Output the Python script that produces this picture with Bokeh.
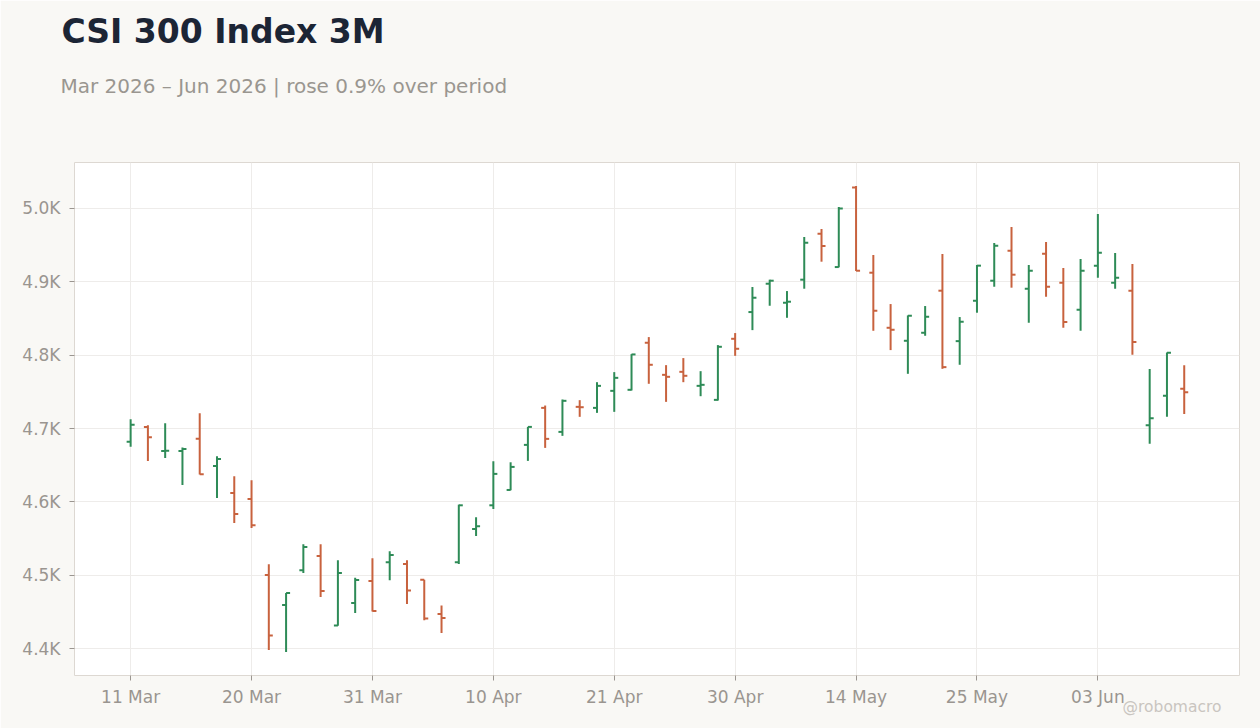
from math import pi
from datetime import datetime
from bokeh.plotting import figure
from bokeh.models import (ColumnDataSource, Range1d, FixedTicker, CustomJSTickFormatter, Title)
from bokeh.embed import file_html
from bokeh.resources import INLINE

# ---------------- data ----------------
dates = [
    "2026-03-11", "2026-03-12", "2026-03-13", "2026-03-16", "2026-03-17", "2026-03-18", "2026-03-19",
    "2026-03-20", "2026-03-23", "2026-03-24", "2026-03-25", "2026-03-26", "2026-03-27", "2026-03-30",
    "2026-03-31", "2026-04-01", "2026-04-02", "2026-04-03", "2026-04-07", "2026-04-08", "2026-04-09",
    "2026-04-10", "2026-04-13", "2026-04-14", "2026-04-15", "2026-04-16", "2026-04-17", "2026-04-20",
    "2026-04-21", "2026-04-22", "2026-04-23", "2026-04-24", "2026-04-27", "2026-04-28", "2026-04-29",
    "2026-04-30", "2026-05-06", "2026-05-07", "2026-05-08", "2026-05-11", "2026-05-12", "2026-05-13",
    "2026-05-14", "2026-05-15", "2026-05-18", "2026-05-19", "2026-05-20", "2026-05-21", "2026-05-22",
    "2026-05-25", "2026-05-26", "2026-05-27", "2026-05-28", "2026-05-29", "2026-06-01", "2026-06-02",
    "2026-06-03", "2026-06-04", "2026-06-05", "2026-06-08", "2026-06-09", "2026-06-10",
]
opens = [
    4681.8, 4702.2, 4669.2, 4669.5, 4685.9, 4649.0, 4612.2, 4604.0, 4500.4, 4459.6,
    4506.8, 4526.3, 4431.8, 4462.3, 4492.3, 4517.7, 4515.4, 4494.0, 4447.3, 4517.7,
    4563.2, 4595.4, 4616.3, 4677.7, 4728.1, 4695.4, 4729.5, 4728.1, 4751.3, 4752.7,
    4816.8, 4773.1, 4777.2, 4758.1, 4739.0, 4822.2, 4858.6, 4897.2, 4871.3, 4902.7,
    4965.4, 4919.9, 5028.1, 4912.2, 4837.2, 4819.5, 4830.4, 4887.7, 4819.0, 4874.0,
    4901.3, 4942.2, 4890.4, 4938.1, 4898.6, 4861.8, 4921.8, 4898.6, 4887.7, 4704.5,
    4744.5, 4754.0,
]
highs = [
    4712.7, 4704.5, 4707.2, 4674.0, 4720.9, 4662.2, 4635.0, 4629.5, 4515.0, 4475.9,
    4542.3, 4542.3, 4520.4, 4496.8, 4523.2, 4532.7, 4520.4, 4494.0, 4459.0, 4596.3,
    4579.0, 4655.4, 4654.0, 4702.2, 4731.3, 4739.5, 4738.6, 4763.1, 4776.8, 4801.3,
    4824.5, 4786.3, 4795.9, 4778.1, 4813.6, 4830.0, 4892.7, 4902.7, 4887.2, 4960.8,
    4971.8, 5001.7, 5030.4, 4936.3, 4869.5, 4854.0, 4866.8, 4937.7, 4851.8, 4922.7,
    4952.7, 4974.5, 4922.7, 4954.0, 4918.6, 4930.9, 4992.2, 4939.0, 4924.0, 4780.9,
    4803.6, 4786.3,
]
lows = [
    4675.0, 4655.9, 4660.0, 4623.2, 4637.3, 4605.4, 4571.3, 4564.5, 4398.2, 4395.5,
    4503.2, 4470.5, 4431.4, 4448.6, 4450.9, 4493.2, 4460.9, 4439.0, 4421.4, 4515.4,
    4553.6, 4590.4, 4615.9, 4655.9, 4673.6, 4690.0, 4715.9, 4721.3, 4722.7, 4751.8,
    4760.9, 4736.3, 4763.1, 4744.0, 4738.1, 4799.0, 4834.0, 4867.2, 4850.8, 4890.4,
    4927.2, 4919.5, 4914.5, 4833.1, 4806.8, 4774.5, 4826.3, 4781.3, 4786.8, 4857.7,
    4893.1, 4891.8, 4844.0, 4879.5, 4837.2, 4833.1, 4905.4, 4890.4, 4800.4, 4679.1,
    4715.9, 4719.9,
]
closes = [
    4705.0, 4688.2, 4669.8, 4672.2, 4637.7, 4658.6, 4583.6, 4568.2, 4418.2, 4475.9,
    4538.6, 4478.6, 4503.2, 4493.6, 4451.4, 4527.7, 4479.5, 4441.3, 4441.8, 4595.4,
    4566.8, 4638.2, 4647.7, 4702.2, 4685.9, 4737.7, 4729.0, 4758.1, 4769.0, 4800.9,
    4786.8, 4770.4, 4771.8, 4759.5, 4811.3, 4808.6, 4878.1, 4901.3, 4872.7, 4953.1,
    4948.6, 4999.5, 4914.9, 4860.4, 4834.5, 4853.6, 4852.2, 4783.6, 4845.4, 4921.8,
    4949.0, 4909.5, 4914.9, 4893.1, 4844.9, 4914.9, 4939.5, 4905.4, 4817.7, 4714.1,
    4803.1, 4749.5,
]
y_ticks = [4400, 4500, 4600, 4700, 4800, 4900, 5000]
x_tick_every = 7

title_text = "CSI 300 Index 3M"
subtitle_text = "Mar 2026 \u2013 Jun 2026 | rose 0.9% over period"
watermark_text = "@robomacro"

UP = "#2e8b57"
DOWN = "#c8623e"
BG = "#f9f8f5"

# ---------------- build ----------------
xs = list(range(len(dates)))
colors = [UP if c >= o else DOWN for o, c in zip(opens, closes)]
src = ColumnDataSource(dict(x=xs, open=opens, high=highs, low=lows, close=closes, color=colors))

p = figure(
    frame_width=1165, frame_height=513,
    min_border_left=74, min_border_right=21, min_border_top=162, min_border_bottom=53,
    output_backend="svg", toolbar_location=None,
    x_range=Range1d(-3.25, 64.2), y_range=Range1d(4363.6, 5062.3),
    background_fill_color="white", border_fill_color=BG,
)
p.outline_line_color = "#ddd8d2"
p.outline_line_width = 1

p.segment(x0="x", y0="low", x1="x", y1="high", line_color="color", line_width=2, source=src)
p.ray(x="x", y="open", length=4, length_units="screen", angle=pi, line_color="color",
      line_width=2, source=src)
p.ray(x="x", y="close", length=4, length_units="screen", angle=0, line_color="color",
      line_width=2, source=src)

tick_idx = xs[::x_tick_every]
p.xaxis.ticker = FixedTicker(ticks=tick_idx)
p.xaxis.major_label_overrides = {
    i: datetime.strptime(dates[i], "%Y-%m-%d").strftime("%d %b") for i in tick_idx
}
p.yaxis.ticker = FixedTicker(ticks=y_ticks)
p.yaxis.formatter = CustomJSTickFormatter(code="return (tick/1000).toFixed(1) + 'K';")

for ax in (p.xaxis[0], p.yaxis[0]):
    ax.axis_line_color = None
    ax.major_tick_line_color = "#9a9590"
    ax.major_tick_in = 0
    ax.major_tick_out = 5
    ax.minor_tick_line_color = None
    ax.major_label_text_color = "#9a9590"
    ax.major_label_text_font = "DejaVu Sans"
    ax.major_label_text_font_size = "17px"
p.yaxis.major_label_standoff = 9
p.xaxis.major_label_standoff = 6

p.xgrid.ticker = FixedTicker(ticks=tick_idx)
p.ygrid.ticker = FixedTicker(ticks=y_ticks)
p.grid.grid_line_color = "#eeecea"
p.grid.grid_line_width = 1

# header: stacked upward from the frame (first added is closest to the frame)
p.add_layout(Title(text=" ", text_font="DejaVu Sans", text_font_size="1px",
                   standoff=40), "above")
p.add_layout(Title(text=subtitle_text, text_font="DejaVu Sans", text_font_size="20px",
                   text_font_style="normal", text_color="#9a9690", align="left",
                   offset=-14, standoff=43), "above")
p.add_layout(Title(text=title_text, text_font="DejaVu Sans", text_font_size="33px",
                   text_font_style="bold", text_color="#1c2535", align="left",
                   offset=-13, standoff=0), "above")
p.add_layout(Title(text=watermark_text, text_font="DejaVu Sans", text_font_size="15.5px",
                   text_font_style="normal", text_color="#c9c5c0", align="right",
                   vertical_align="top", offset=18, standoff=-23), "below")

html = file_html(p, INLINE, title="CSI 300 Index 3M")
html = html.replace("<body>", '<body style="margin:0;background:%s;">' % BG, 1)
open("out.html", "w").write(html)
